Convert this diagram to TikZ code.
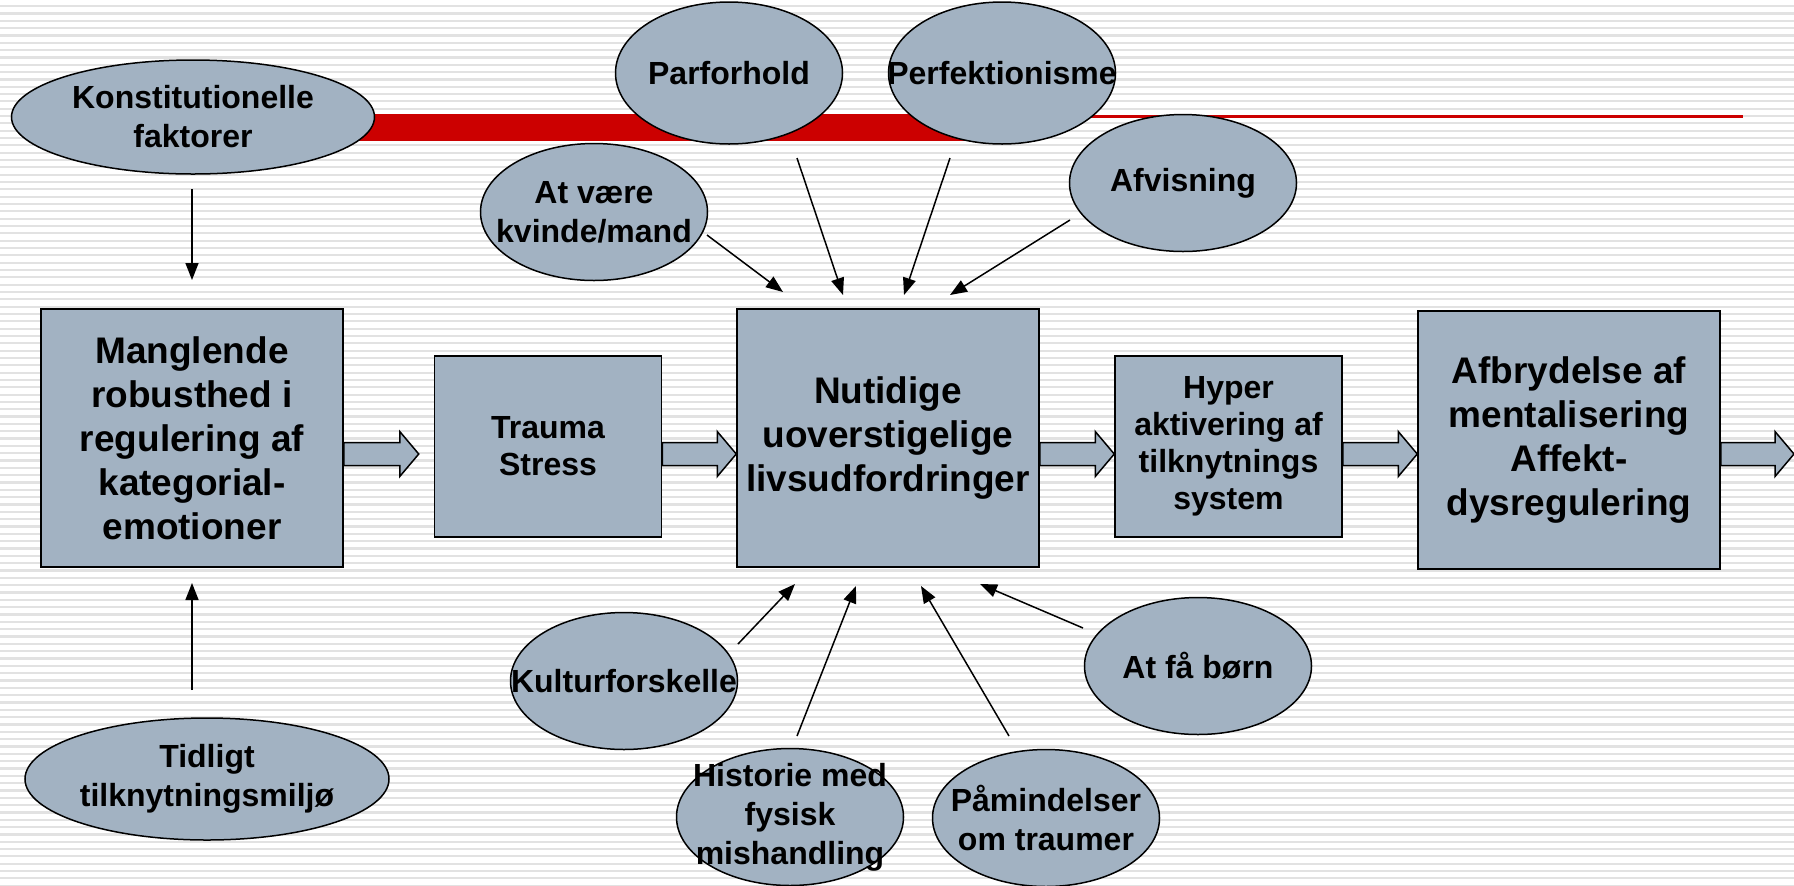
\documentclass[tikz,border=0pt]{standalone}
\usepackage{fontspec}
\setmainfont{Liberation Sans}
\usepackage{tikz}
\usetikzlibrary{shapes,arrows.meta,positioning,calc}

\definecolor{boxgray}{RGB}{162,178,194}
\definecolor{barred}{RGB}{204,0,0}
\definecolor{stripe}{RGB}{226,226,226}

% wide arrow from a node side to a tip, on the arrow axis
\newcommand{\blockarr}[2]{%
  \path[blockarrow] let \p1=(#1 |- axis), \p2=(#2 |- axis) in
    (\x1,\y1+5.75pt) -- (\x2-9.5pt,\y1+5.75pt) -- (\x2-9.5pt,\y1+11.25pt)
    -- (\x2,\y1) -- (\x2-9.5pt,\y1-11.25pt) -- (\x2-9.5pt,\y1-5.75pt)
    -- (\x1,\y1-5.75pt) -- cycle;}

\begin{document}
\begin{tikzpicture}[
    x=0.5pt, y=-0.5pt,
    bigbox/.style={rectangle, draw, fill=boxgray, line width=0.75pt, minimum width=151pt, minimum height=129pt, align=center, font=\fontsize{18.5}{22}\selectfont\bfseries},
    midbox/.style={rectangle, draw, fill=boxgray, line width=0.75pt, minimum width=113.5pt, minimum height=90.5pt, align=center, font=\fontsize{16}{18.5}\selectfont\bfseries},
    factor/.style={ellipse, draw, fill=boxgray, line width=0.75pt, minimum width=113.5pt, minimum height=68.5pt, inner sep=0pt},
    factortext/.style={align=center, font=\fontsize{16}{19.5}\selectfont\bfseries},
    arrow/.style={-{Triangle[length=8.5pt,width=6.5pt]}, line width=0.75pt},
    blockarrow/.style={draw, fill=boxgray, line width=0.75pt}
]
\useasboundingbox (0,0) rectangle (1794,885);

% Background stripes
\foreach \k in {0,...,120}
  \draw[stripe, line width=1.1pt] (0,{6.1+7.33*\k}) -- (1794,{6.1+7.33*\k});

% Red title bar
\fill[barred] (300,114) rectangle (995,141);
\draw[barred, line width=1.5pt] (990,116) -- (1743,116);

% Factors
\node[factor, minimum width=181.5pt, minimum height=57pt, label={[factortext]center:{Konstitutionelle\\faktorer}}] (konst) at (193,117) {};
\node[factor, minimum width=182pt, minimum height=61pt, label={[factortext]center:{Tidligt\\tilknytningsmiljø}}] (tidligt) at (207,779) {};
\node[factor, minimum height=71pt, label={[factortext]center:Parforhold}] (parforhold) at (729,73) {};
\node[factor, minimum height=71pt, label={[factortext]center:Perfektionisme}] (perfekt) at (1002,73) {};
\node[factor, label={[factortext]center:{At være\\kvinde/mand}}] (kvinde) at (594,212) {};
\node[factor, label={[factortext]center:Afvisning}] (afvisning) at (1183,183) {};
\node[factor, label={[factortext]center:Kulturforskelle}] (kultur) at (624,681) {};
\node[factor, label={[factortext]center:{At få børn}}] (boern) at (1198,666) {};
\node[factor, label={[factortext]center:{Historie med\\fysisk\\mishandling}}] (historie) at (790,817) {};
\node[factor, label={[factortext]center:{Påmindelser\\om traumer}}] (paamind) at (1046,818) {};

% Main chain
\node[bigbox] (manglende) at (192,438) {Manglende\\robusthed i\\regulering af\\kategorial-\\emotioner};
\node[midbox] (trauma) at (548,446.5) {Trauma\\Stress};
\node[bigbox] (nutidige) at (888,438) {Nutidige\\uoverstigelige\\livsudfordringer};
\node[midbox] (hyper) at (1228.5,446.5) {Hyper\\aktivering af\\ tilknytnings\\system};
\node[bigbox] (afbrydelse) at (1569,440) {Afbrydelse af\\mentalisering\\Affekt-\\dysregulering};

% Wide arrows
\coordinate (axis) at (0,454);
\coordinate (tip1) at ($(trauma.west)+(-15,0)$);
\coordinate (exit) at (1794,454);
\blockarr{manglende.east}{tip1}
\blockarr{trauma.east}{nutidige.west}
\blockarr{nutidige.east}{hyper.west}
\blockarr{hyper.east}{afbrydelse.west}
\blockarr{afbrydelse.east}{exit}

% Arrow ends
\coordinate (konst-s) at (192,189);      \coordinate (konst-e) at (192,280);
\coordinate (tidligt-s) at (192,690);    \coordinate (tidligt-e) at (192,583);
\coordinate (kvinde-s) at (707,235);     \coordinate (kvinde-e) at (783,292);
\coordinate (parforhold-s) at (797,158); \coordinate (parforhold-e) at (843,295);
\coordinate (perfekt-s) at (950,158);    \coordinate (perfekt-e) at (904,295);
\coordinate (afvisning-s) at (1070,220); \coordinate (afvisning-e) at (950,295);
\coordinate (kultur-s) at (738,644);     \coordinate (kultur-e) at (795,584);
\coordinate (historie-s) at (797,736);   \coordinate (historie-e) at (856,586);
\coordinate (paamind-s) at (1009,736);   \coordinate (paamind-e) at (921,586);
\coordinate (boern-s) at (1083,628);     \coordinate (boern-e) at (980,584);

% Thin arrows
\foreach \a in {konst,tidligt,kvinde,parforhold,perfekt,afvisning,kultur,historie,paamind,boern}
  \draw[arrow] (\a-s) -- (\a-e);

\end{tikzpicture}
\end{document}
